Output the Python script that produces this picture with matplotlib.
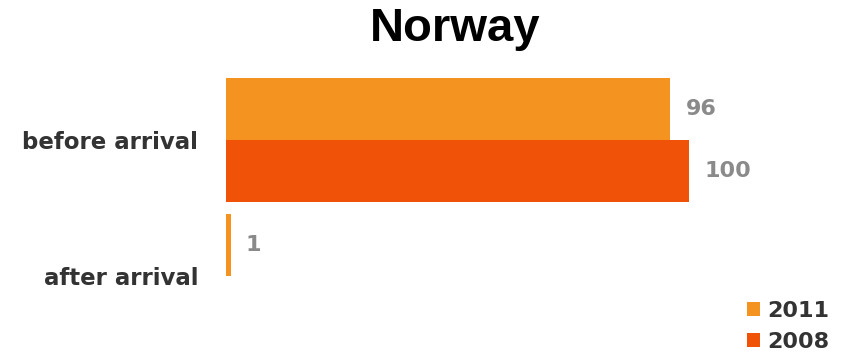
import numpy as np
import matplotlib.pyplot as plt

# data
categories = ['before arrival', 'after arrival']
years = ['2011', '2008']
values_2011 = [96, 1]
values_2008 = [100, 0]

c2011 = '#F4931F'
c2008 = '#F05308'

fig = plt.figure(figsize=(8.55, 3.61), dpi=100)
W, H = 855, 361

# axes placed in pixel terms: bars start at x=226
ax = fig.add_axes([226 / W, 1 - 350 / H, (845 - 226) / W, 290 / H])
px_per_unit = 463 / 100
ax.set_xlim(0, (845 - 226) / px_per_unit)
ax.set_ylim((350 - 140) / 136, (60 - 140) / 136)

y = np.arange(len(categories))
h = 62 / 136

b1 = ax.barh(y - h / 2, values_2011, height=h, color=c2011, label=years[0])
b2 = ax.barh(y + h / 2, values_2008, height=h, color=c2008, label=years[1])

# value labels, skip zeros
for bars, vals in [(b1, values_2011), (b2, values_2008)]:
    for bar, v in zip(bars, vals):
        if v == 0:
            continue
        ax.annotate(str(v), (v, bar.get_y() + bar.get_height() / 2),
                    xytext=(11, 0), textcoords='offset points',
                    ha='left', va='center', fontsize=16, fontweight='bold',
                    color='#8a8a8a')

ax.set_yticks(y)
ax.set_yticklabels(categories, fontsize=16.5, fontweight='bold', color='#333333')
ax.tick_params(axis='y', length=0, pad=20)
ax.set_xticks([])
for s in ax.spines.values():
    s.set_visible(False)

fig.text(455 / W, 1 - 29 / H, 'Norway', ha='center', va='center',
         fontsize=34, fontweight='bold', family='Liberation Sans')

fig.legend(handles=[b1, b2], labels=years, loc='lower right',
           bbox_to_anchor=(838 / W, 0), frameon=False,
           prop={'size': 16, 'weight': 'bold'},
           handlelength=0.6, handleheight=0.6, handletextpad=0.3,
           labelspacing=0.5, borderaxespad=0.0, labelcolor='#333333')

fig.savefig('out.png', dpi=100)
